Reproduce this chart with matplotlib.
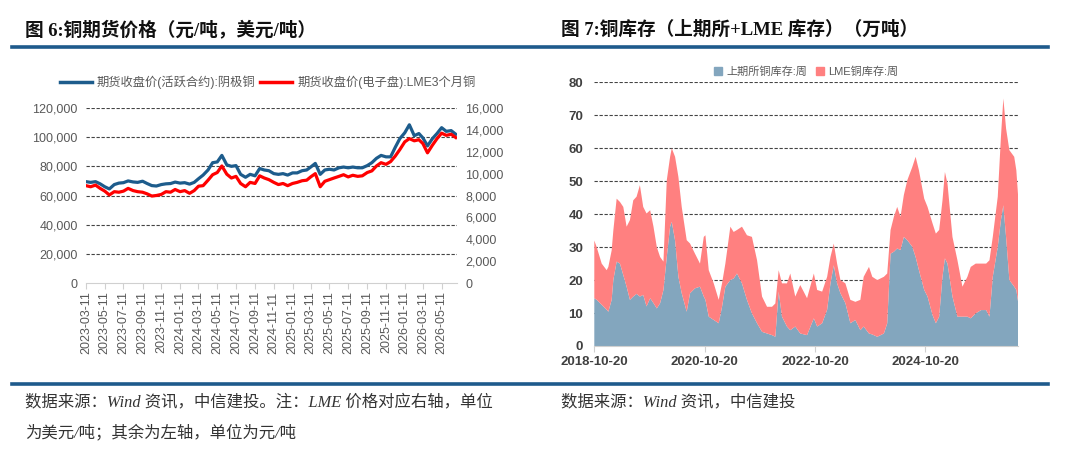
import numpy as np
import pandas as pd
import matplotlib
matplotlib.use("Agg")
import matplotlib.pyplot as plt
from matplotlib.lines import Line2D
from matplotlib.patches import Patch
from matplotlib.ticker import FuncFormatter

plt.rcParams['font.family'] = ['Liberation Sans', 'Noto Sans CJK SC']
plt.rcParams['axes.unicode_minus'] = False

# ---------------- figure 6: copper futures prices (semi-monthly readings) ----------------
month_starts = pd.date_range('2023-03-11', '2026-06-11', freq=pd.DateOffset(months=1))
price_dates = sorted(list(month_starts) + list(month_starts + pd.Timedelta(days=15)))

shfe_price = [69500, 69000, 69500, 68000, 66000, 64500, 67500, 68500, 68800, 70000,
              69300, 69000, 69800, 68200, 66800, 66500, 67500, 68000, 68200, 69200,
              68500, 68800, 67800, 69000, 71500, 74000, 77500, 82500, 83000, 87500,
              81000, 80000, 80500, 74500, 72500, 74500, 73500, 78500, 77500, 77000,
              75000, 74500, 75000, 74000, 75500, 75500, 77000, 77500, 79500, 82000,
              74500, 77500, 78000, 77500, 79000, 79500, 79000, 79500, 79000, 79000,
              80500, 82500, 85500, 87500, 86500, 86500, 93000, 99000, 103000, 108500,
              101000, 102500, 99500, 94000, 99000, 102500, 106500, 104000, 104500, 102000]

lme_price = [8900, 8800, 8950, 8650, 8400, 8050, 8350, 8300, 8400, 8650,
             8450, 8350, 8300, 8150, 7950, 8000, 8100, 8350, 8300, 8550,
             8350, 8450, 8200, 8450, 8850, 8900, 9400, 9900, 10100, 10700,
             9950, 9600, 9750, 9100, 8800, 9200, 9100, 9800, 9600, 9450,
             9200, 9000, 9100, 8900, 9100, 9200, 9350, 9400, 9700, 10000,
             8800, 9300, 9450, 9600, 9750, 9900, 9700, 9850, 9750, 9800,
             10100, 10250, 10700, 11000, 10850, 11100, 11600, 12200, 12900, 13200,
             13000, 13100, 12750, 11900, 12600, 13200, 13700, 13500, 13600, 13300]

price_labels = ['期货收盘价(活跃合约):阴极铜', '期货收盘价(电子盘):LME3个月铜']

# ---------------- figure 7: copper inventories (万吨) ----------------
stock_dates = [
    '2018-10-20', '2018-11-05', '2018-12-08', '2019-01-10', '2019-01-21', '2019-02-12',
    '2019-02-23', '2019-03-17', '2019-04-08', '2019-04-30', '2019-05-22', '2019-06-13',
    '2019-07-05', '2019-07-27', '2019-08-18', '2019-09-09', '2019-10-01', '2019-10-25',
    '2019-11-16', '2019-12-08', '2019-12-30', '2020-01-21', '2020-02-12', '2020-03-05',
    '2020-03-16', '2020-04-07', '2020-04-29', '2020-05-21', '2020-06-23', '2020-07-15',
    '2020-08-17', '2020-09-19', '2020-10-14', '2020-10-25', '2020-11-16', '2020-12-19',
    '2021-01-21', '2021-02-12', '2021-03-06', '2021-04-08', '2021-04-30', '2021-05-22',
    '2021-06-24', '2021-07-27', '2021-08-29', '2021-10-02', '2021-11-04', '2021-12-07',
    '2022-01-09', '2022-01-31', '2022-02-22', '2022-03-16', '2022-04-18', '2022-05-10',
    '2022-06-12', '2022-07-15', '2022-08-29', '2022-10-13', '2022-11-04', '2022-12-07',
    '2023-01-09', '2023-01-31', '2023-02-22', '2023-03-16', '2023-04-07', '2023-05-10',
    '2023-06-12', '2023-07-15', '2023-08-17', '2023-09-08', '2023-10-13', '2023-11-04',
    '2023-12-07', '2024-01-20', '2024-02-11', '2024-03-04', '2024-03-26', '2024-04-17',
    '2024-05-09', '2024-05-31', '2024-06-23', '2024-07-26', '2024-08-17', '2024-09-08',
    '2024-10-13', '2024-11-04', '2024-12-07', '2024-12-29', '2025-01-20', '2025-02-11',
    '2025-02-27', '2025-03-16', '2025-04-18', '2025-05-21', '2025-06-23', '2025-07-26',
    '2025-08-17', '2025-09-19', '2025-10-25', '2025-11-27', '2025-12-19', '2026-01-10',
    '2026-02-12', '2026-03-05', '2026-03-21', '2026-04-08', '2026-04-30', '2026-06-01',
    '2026-06-15', '2026-06-28']

shfe_stock = [14.5, 14.0, 12.5, 11.0, 10.4, 14.0, 20.0, 25.6, 25.0, 21.5, 18.0, 14.0,
              15.0, 15.8, 15.0, 15.5, 12.0, 14.5, 13.0, 11.4, 13.0, 17.0, 27.0, 36.2,
              37.7, 32.0, 21.0, 16.0, 10.4, 16.0, 17.5, 18.0, 15.0, 14.0, 8.9, 7.9,
              6.9, 11.9, 18.0, 20.0, 20.5, 22.0, 19.0, 14.0, 9.9, 6.9, 4.3, 3.8,
              3.3, 2.8, 16.5, 8.9, 5.9, 4.8, 5.9, 3.8, 3.3, 8.4, 5.9, 6.9,
              11.0, 19.0, 24.5, 19.0, 16.0, 13.0, 6.9, 7.9, 4.8, 5.9, 3.8, 3.5,
              2.8, 3.8, 6.9, 28.0, 28.6, 29.6, 29.1, 33.1, 32.1, 30.1, 27.0, 23.0,
              17.0, 15.0, 9.4, 6.9, 8.9, 21.0, 26.6, 25.0, 15.0, 8.9, 8.9, 8.9,
              8.4, 9.9, 10.9, 10.9, 8.9, 21.0, 30.1, 38.2, 42.7, 33.1, 20.0, 18.0,
              17.0, 13.0]

lme_stock = [17.5, 16.0, 12.5, 12.0, 13.6, 15.0, 15.0, 19.1, 18.7, 20.7, 18.2, 24.2,
             29.2, 29.5, 33.8, 26.7, 28.2, 26.7, 23.2, 18.6, 14.0, 8.6, 23.3, 21.2,
             22.3, 25.4, 30.3, 26.2, 21.7, 15.1, 10.5, 7.0, 18.1, 19.6, 14.1, 11.1,
             7.1, 7.1, 7.0, 16.2, 14.1, 13.2, 17.2, 19.6, 23.2, 19.1, 10.7, 8.1,
             8.6, 10.1, 6.5, 10.1, 13.1, 17.2, 9.1, 14.7, 11.2, 13.6, 11.1, 9.6,
             10.0, 8.0, 6.6, 6.0, 4.0, 6.0, 7.1, 5.5, 9.2, 15.1, 20.2, 17.5,
             17.2, 17.2, 15.1, 7.2, 10.6, 12.6, 10.1, 12.7, 18.2, 24.2, 30.4, 30.3,
             27.7, 27.2, 27.8, 27.2, 26.3, 23.2, 26.2, 24.3, 18.1, 17.1, 9.1, 12.1,
             15.6, 15.1, 14.1, 14.1, 17.1, 12.1, 15.2, 25.2, 32.4, 32.9, 39.4, 39.4,
             36.3, 31.7]

stock_labels = ['上期所铜库存:周', 'LME铜库存:周']

# ---------------- styles ----------------
W, H = 1080, 453
BLUE_LINE = '#1D5C8C'
RED_LINE = '#FF0000'
AREA_BLUE = '#83A6BE'
AREA_RED = '#FF8080'
RULE = '#1E5A8C'
GRID = '#444444'
AXIS = '#D0D0D0'


def fx(px):
    return px / W


def fy(py):
    return 1 - py / H


fig = plt.figure(figsize=(10.8, 4.53), dpi=100)

# ---- titles, rules, footers ----
title_font = dict(family=['Liberation Serif', 'Noto Sans CJK SC'], weight='bold', size=13.4, color='#111111')
fig.text(fx(25), fy(30), '图 6:铜期货价格（元/吨，美元/吨）', va='center', ha='left', **title_font)
fig.text(fx(561), fy(30), '图 7:铜库存（上期所+LME 库存）（万吨）', va='center', ha='left', **title_font)

fig.add_artist(Line2D([fx(12), fx(1048)], [fy(47), fy(47)], color=RULE, lw=2.6))
fig.add_artist(Line2D([fx(12), fx(1048)], [fy(384), fy(384)], color=RULE, lw=2.6))

foot_font = dict(family=['Liberation Serif', 'Noto Sans CJK SC'], style='italic', size=11.8, color='#333333')
fig.text(fx(25), fy(402), '数据来源：Wind 资讯，中信建投。注：LME 价格对应右轴，单位',
         va='center', ha='left', **foot_font)
fig.text(fx(25), fy(433), '为美元/吨；其余为左轴，单位为元/吨', va='center', ha='left', **foot_font)
fig.text(fx(561), fy(402), '数据来源：Wind 资讯，中信建投', va='center', ha='left', **foot_font)

# ---- left chart ----
ax = fig.add_axes([fx(86), fy(283), fx(457) - fx(86), fy(108) - fy(283)])
ax2 = ax.twinx()

ax.plot(price_dates, shfe_price, color=BLUE_LINE, lw=2.3, zorder=3)
ax2.plot(price_dates, lme_price, color=RED_LINE, lw=2.3, zorder=3)

ax.set_ylim(0, 120000)
ax2.set_ylim(0, 16000)
ax.set_yticks(range(0, 120001, 20000))
ax2.set_yticks(range(0, 16001, 2000))
for v in range(20000, 120001, 20000):
    ax.axhline(v, color=GRID, lw=0.8, ls=(0, (3, 1.5)), zorder=1)

comma = FuncFormatter(lambda v, p: f'{v:,.0f}')
ax.yaxis.set_major_formatter(comma)
ax2.yaxis.set_major_formatter(comma)

xticks = pd.date_range('2023-03-11', '2026-05-11', freq=pd.DateOffset(months=2))
ax.set_xlim(pd.Timestamp('2023-03-11'), pd.Timestamp('2026-06-30'))
ax.set_xticks(xticks)
ax.set_xticklabels([d.strftime('%Y-%m-%d') for d in xticks], rotation=90)

for a in (ax, ax2):
    for s in ('top', 'left', 'right'):
        a.spines[s].set_visible(False)
    a.spines['bottom'].set_color(AXIS)
ax2.spines['bottom'].set_visible(False)
ax.tick_params(axis='y', length=0, labelsize=9, labelcolor='#595959', pad=6)
ax2.tick_params(axis='y', length=0, labelsize=9, labelcolor='#595959', pad=6)
ax.tick_params(axis='x', length=4, color=AXIS, labelsize=9, labelcolor='#595959', pad=2)

price_handles = [Line2D([], [], color=BLUE_LINE, lw=2.5), Line2D([], [], color=RED_LINE, lw=2.5)]
ax.legend(price_handles, price_labels, loc='center', bbox_to_anchor=(0.49, 1.145), ncol=2,
          frameon=False, fontsize=8.8, labelcolor='#595959', handlelength=2.6,
          handletextpad=0.4, columnspacing=0.4)

# ---- right chart ----
bx = fig.add_axes([fx(594.3), fy(346), fx(1018.3) - fx(594.3), fy(82.3) - fy(346)])
sd = pd.to_datetime(stock_dates)
bx.stackplot(sd, shfe_stock, lme_stock, colors=[AREA_BLUE, AREA_RED], lw=0, zorder=2)
bx.set_ylim(0, 80)
bx.set_yticks(range(0, 81, 10))
for v in range(10, 81, 10):
    bx.axhline(v, color=GRID, lw=0.8, ls=(0, (3, 1.5)), zorder=1)

bticks = pd.to_datetime(['2018-10-20', '2020-10-20', '2022-10-20', '2024-10-20'])
bx.set_xlim(pd.Timestamp('2018-10-20'), pd.Timestamp('2026-06-28'))
bx.set_xticks(bticks)
bx.set_xticklabels([d.strftime('%Y-%m-%d') for d in bticks])
for s in ('top', 'left', 'right'):
    bx.spines[s].set_visible(False)
bx.spines['bottom'].set_color(AXIS)
bx.spines['bottom'].set_zorder(3)
bx.tick_params(axis='y', length=0, labelsize=9.5, labelcolor='#404040', pad=8)
bx.tick_params(axis='x', length=4, color=AXIS, labelsize=9.5, labelcolor='#404040', pad=3)
for t in bx.get_xticklabels() + bx.get_yticklabels():
    t.set_fontweight('bold')

stock_handles = [Patch(color=AREA_BLUE), Patch(color=AREA_RED)]
bx.legend(stock_handles, stock_labels, loc='center', bbox_to_anchor=(0.5, 1.042), ncol=2,
          frameon=False, fontsize=8, labelcolor='#595959', handlelength=0.7,
          handleheight=0.7, handletextpad=0.4, columnspacing=0.8)

fig.savefig('out.png', dpi=100)
